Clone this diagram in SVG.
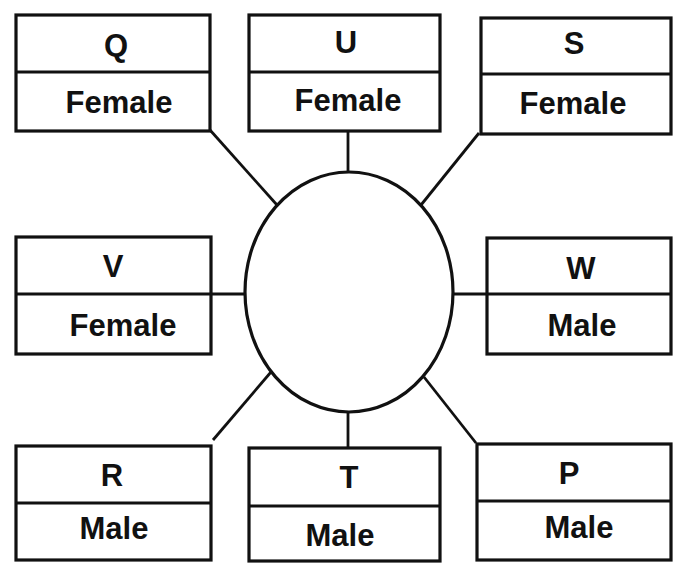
<svg xmlns="http://www.w3.org/2000/svg" width="674" height="563" viewBox="0 0 674 563">
<style>
.box{fill:#fff;stroke:#111;stroke-width:3.2}
.div{stroke:#111;stroke-width:3.2}
.con{stroke:#111;stroke-width:2.8;fill:none}
text{font-family:"Liberation Sans",Arial,sans-serif;font-weight:bold;font-size:31px;fill:#111;text-anchor:middle}
</style>
<rect width="674" height="563" fill="#fff"/>
<g id="connectors">
<line class="con" x1="210" y1="130" x2="277" y2="205"/>
<line class="con" x1="348" y1="131" x2="348" y2="172"/>
<line class="con" x1="479" y1="133" x2="421" y2="205"/>
<line class="con" x1="211" y1="294" x2="245" y2="294"/>
<line class="con" x1="453" y1="294" x2="487" y2="294"/>
<line class="con" x1="213" y1="440" x2="271" y2="372"/>
<line class="con" x1="348" y1="412" x2="348" y2="448"/>
<line class="con" x1="476" y1="443" x2="424" y2="377"/>
</g>
<g id="center"><ellipse class="box" cx="349" cy="292" rx="104" ry="120"/></g>
<g id="Q"><rect class="box" x="16" y="15" width="194" height="116"/><line class="div" x1="16" y1="72" x2="210" y2="72"/><text x="116" y="56">Q</text><text x="119" y="113">Female</text></g>
<g id="U"><rect class="box" x="249" y="15" width="191" height="116"/><line class="div" x1="249" y1="72" x2="440" y2="72"/><text x="346" y="53">U</text><text x="348" y="111">Female</text></g>
<g id="S"><rect class="box" x="481" y="18" width="190" height="116"/><line class="div" x1="481" y1="74" x2="671" y2="74"/><text x="574" y="54">S</text><text x="573" y="114">Female</text></g>
<g id="V"><rect class="box" x="16" y="237" width="195" height="117"/><line class="div" x1="16" y1="294" x2="211" y2="294"/><text x="113" y="277">V</text><text x="123" y="336">Female</text></g>
<g id="W"><rect class="box" x="487" y="238" width="184" height="116"/><line class="div" x1="487" y1="294" x2="671" y2="294"/><text x="581" y="279">W</text><text x="582" y="336">Male</text></g>
<g id="R"><rect class="box" x="16" y="446" width="195" height="114"/><line class="div" x1="16" y1="503" x2="211" y2="503"/><text x="112" y="486">R</text><text x="114" y="539">Male</text></g>
<g id="T"><rect class="box" x="249" y="448" width="191" height="113"/><line class="div" x1="249" y1="506" x2="440" y2="506"/><text x="349" y="488">T</text><text x="340" y="546">Male</text></g>
<g id="P"><rect class="box" x="477" y="444" width="194" height="116"/><line class="div" x1="477" y1="501" x2="671" y2="501"/><text x="569" y="484">P</text><text x="579" y="538">Male</text></g>
</svg>
